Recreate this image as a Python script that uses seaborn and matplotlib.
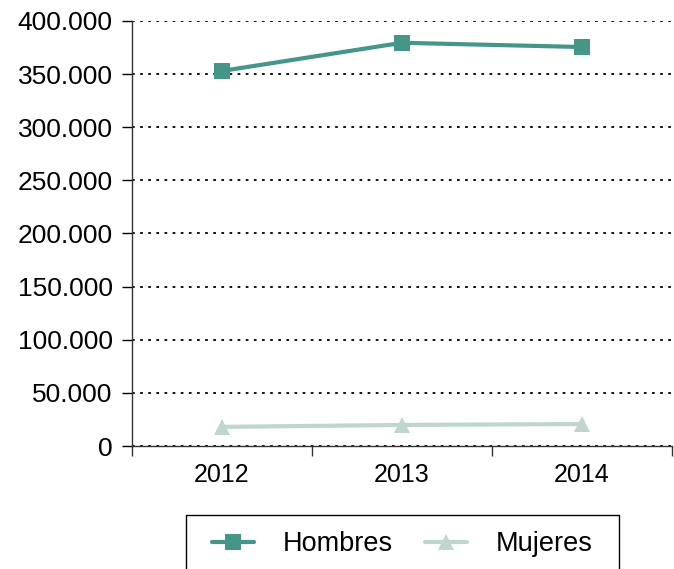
import matplotlib
matplotlib.use("Agg")
import matplotlib.pyplot as plt
import matplotlib.ticker as mticker
from matplotlib.patches import Rectangle
import pandas as pd
import seaborn as sns

years = ["2012", "2013", "2014"]
hombres = [353000, 379500, 375500]
mujeres = [18000, 19800, 20700]

df = pd.DataFrame({
    "year": years * 2,
    "value": hombres + mujeres,
    "serie": ["Hombres"] * 3 + ["Mujeres"] * 3,
})

sns.set_theme(style="white")
plt.rcParams["font.family"] = ["Liberation Sans", "DejaVu Sans"]
plt.rcParams["text.color"] = "black"

W, H = 674, 569
fig = plt.figure(figsize=(W / 100, H / 100), dpi=100)
ax = fig.add_axes([132 / W, 1 - 446 / H, 540 / W, 425 / H])

sns.lineplot(
    data=df, x="year", y="value", hue="serie", style="serie",
    palette={"Hombres": "#459689", "Mujeres": "#bed6cc"},
    markers={"Hombres": "s", "Mujeres": "^"}, dashes=False,
    linewidth=3, markersize=11, markeredgewidth=0, ax=ax, legend=False,
)

ax.set_xlim(-0.5, 2.5)
ax.set_ylim(0, 400000)
ax.yaxis.set_major_locator(mticker.MultipleLocator(50000))
ax.yaxis.set_major_formatter(mticker.FuncFormatter(lambda v, p: f"{int(v):,}".replace(",", ".")))
ax.grid(axis="y", color="black", linestyle=(0, (1.5, 3)), linewidth=1.3)
ax.set_axisbelow(True)

ax.set_xticks(range(len(years)))
ax.set_xticklabels(years)
ax.set_xticks([-0.5, 0.5, 1.5, 2.5], minor=True)
ax.tick_params(axis="x", which="major", length=0, labelsize=18, pad=12, colors="black")
ax.tick_params(axis="x", which="minor", length=7, width=1, direction="out", color="#333333", bottom=True)
ax.tick_params(axis="y", length=7, width=1, direction="out", labelsize=19, pad=7, colors="black", left=True)

for s in ["top", "right"]:
    ax.spines[s].set_visible(False)
for s in ["left", "bottom"]:
    ax.spines[s].set_color("#333333")
    ax.spines[s].set_linewidth(1)
ax.set_xlabel("")
ax.set_ylabel("")

# legend below the plot, with its own frame running off the bottom edge
h1, = ax.plot([], [], color="#459689", marker="s", markersize=11, linewidth=3, markeredgewidth=0)
h2, = ax.plot([], [], color="#bed6cc", marker="^", markersize=11, linewidth=3, markeredgewidth=0)
fig.legend(
    [h1, h2], ["Hombres", "Mujeres"], loc="center", ncol=2,
    bbox_to_anchor=(402 / W, 1 - 544 / H), fontsize=19.5,
    frameon=False, handlelength=1.55, handletextpad=1.05, columnspacing=1.2,
    borderaxespad=0, labelcolor="black",
)
fig.patches.append(Rectangle(
    (186 / W, 1 - 580 / H), 433 / W, 65 / H, transform=fig.transFigure,
    fill=False, edgecolor="black", linewidth=1,
))

fig.savefig("out.png", dpi=100)
